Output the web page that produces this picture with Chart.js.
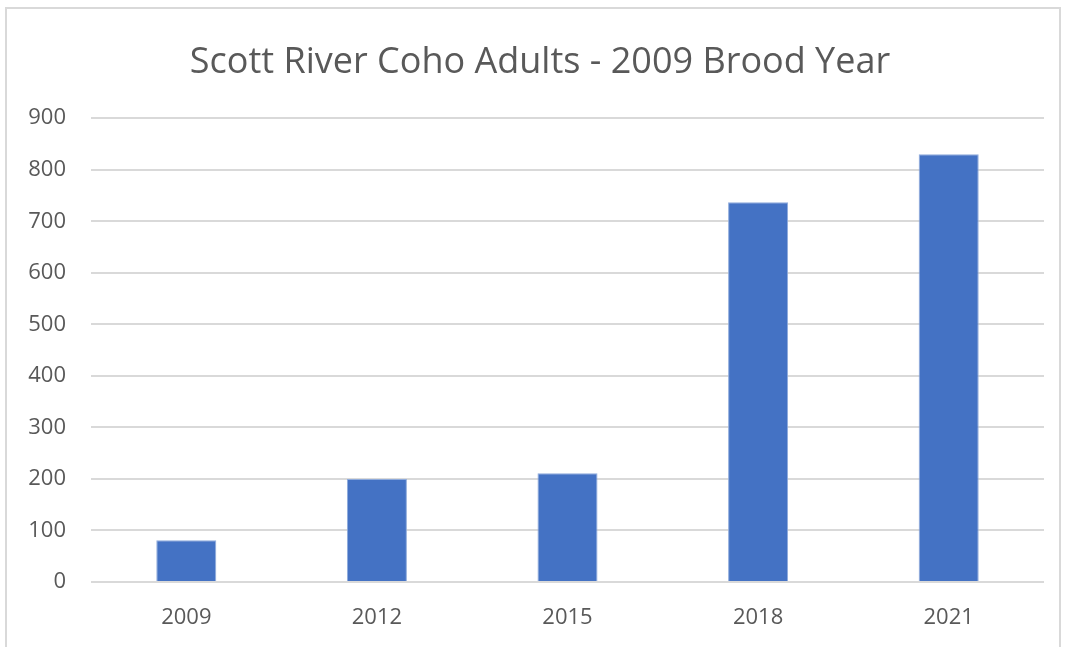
<!DOCTYPE html>
<html>
<head>
<meta charset="utf-8">
<script src="https://cdn.jsdelivr.net/npm/chart.js@4"></script>
<style>
  body { margin: 0; background: #fff; }
  #frame { position: absolute; left: 5px; top: 7px; width: 1056px; height: 645px; border: 2px solid #d9d9d9; box-sizing: border-box; }
  #wrap { position: absolute; left: 0; top: 0; width: 1065px; height: 647px; }
</style>
</head>
<body>
<div id="frame"></div>
<div id="wrap"><canvas id="cohoChart"></canvas></div>
<script>
  const years = ["2009", "2012", "2015", "2018", "2021"];
  const adults = [81, 200, 211, 737, 830];
  const yTicks = [0, 100, 200, 300, 400, 500, 600, 700, 800, 900];

  const ctx = document.getElementById("cohoChart");

  new Chart(ctx, {
    type: "bar",
    data: {
      labels: years,
      datasets: [
        {
          data: adults,
          backgroundColor: "#4472c4",
          borderColor: "#8eaadb",
          borderWidth: 1,
          barPercentage: 0.315,
          categoryPercentage: 1,
        },
      ],
    },
    options: {
      responsive: true,
      maintainAspectRatio: false,
      animation: false,
      layout: { padding: { left: 15, right: 0, top: 0, bottom: 0 } },
      plugins: {
        legend: { display: false },
        tooltip: { enabled: false },
        title: {
          display: true,
          text: "Scott River Coho Adults - 2009 Brood Year",
          color: "#595959",
          font: { family: "Open Sans", size: 36, weight: "normal" },
          padding: { top: 41, bottom: 34 },
        },
      },
      scales: {
        x: {
          grid: { display: false },
          border: { display: false },
          ticks: {
            color: "#595959",
            font: { family: "Open Sans", size: 22 },
            padding: 15,
          },
          afterFit: (scale) => { scale.height = 65; },
        },
        y: {
          min: 0,
          max: 900,
          afterBuildTicks: (scale) => {
            scale.ticks = yTicks.map((v) => ({ value: v }));
          },
          grid: { color: "#d9d9d9", lineWidth: 2, drawTicks: false },
          border: { display: false },
          ticks: {
            color: "#595959",
            font: { family: "Open Sans", size: 22 },
            padding: 25,
          },
          afterFit: (scale) => { scale.width = 76; },
        },
        // empty right-hand margin so the plot ends where the original does
        spacer: {
          type: "linear",
          position: "right",
          display: true,
          grid: { display: false },
          border: { display: false },
          ticks: { display: false },
          afterFit: (scale) => { scale.width = 21; },
        },
      },
    },
  });
</script>
</body>
</html>
